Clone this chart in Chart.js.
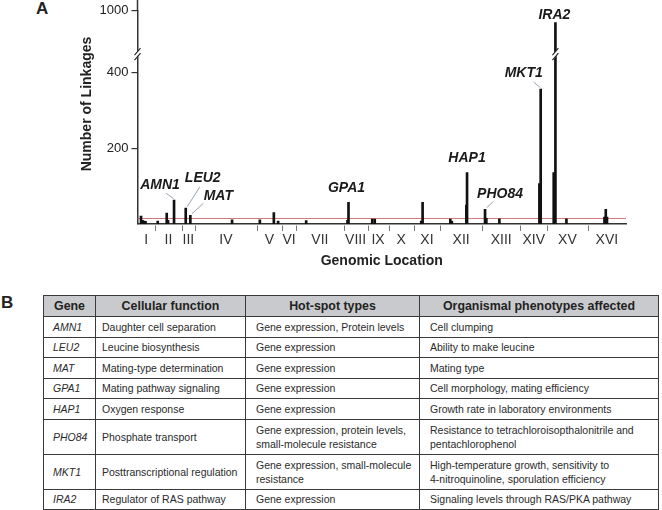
<!DOCTYPE html>
<html>
<head>
<meta charset="utf-8">
<script src="https://cdn.jsdelivr.net/npm/chart.js@4.4.1/dist/chart.umd.min.js"></script>
<style>
  body { margin: 0; width: 662px; height: 510px; overflow: hidden; background: #fff;
         font-family: "Liberation Sans", Arial, sans-serif; color: #222; }
  .panel { position: absolute; font-weight: bold; font-size: 17px; line-height: 17px; color: #222; }
  #lblA { left: 36px; top: 0px; }
  #lblB { left: 1px; top: 294px; }
  #chartBox { position: absolute; left: 0; top: 0; width: 662px; height: 272px; }
  #genes { position: absolute; left: 43px; top: 295px; width: 615px; border-collapse: collapse;
           table-layout: fixed; border: 1.5px solid #3a3a3a; }
  #genes th, #genes td { border: 1.5px solid #3a3a3a; vertical-align: middle; white-space: pre-line; }
  #genes th { background: #c9cacd; font-size: 12.4px; font-weight: bold; text-align: center;
              height: 20px; padding: 0; color: #222; }
  #genes td { font-size: 10.5px; line-height: 14px; color: #2a2a2a; text-align: left; height: 19.5px;
              padding: 0 3px 0 10px; }
  #genes td.gene { font-style: italic; padding-left: 9px; }
  #genes td.func { padding-left: 6px; }
  #genes tr.two td { height: 34px; }
</style>
</head>
<body>
<div id="lblA" class="panel">A</div>
<div id="chartBox"><canvas id="chart" width="662" height="272"></canvas></div>
<div id="lblB" class="panel">B</div>
<table id="genes">
  <colgroup><col style="width:52px"><col style="width:150px"><col style="width:174px"><col style="width:239px"></colgroup>
  <thead><tr><th>Gene</th><th>Cellular function</th><th>Hot-spot types</th><th>Organismal phenotypes affected</th></tr></thead>
  <tbody id="geneRows"></tbody>
</table>
<script>
// chromosome boundaries along the genome axis (kb)
const chromNames = ['I', 'II', 'III', 'IV', 'V', 'VI', 'VII', 'VIII', 'IX', 'X', 'XI', 'XII', 'XIII', 'XIV', 'XV', 'XVI'];
const chromEdges = [0, 433, 1093, 1422, 2949, 3567, 3921, 5091, 5685, 6204, 6823, 7482, 8514, 9461, 10122, 11127, 12071];

// linkage hot spots: position (kb) and number of linkages
const linkPos = [87, 124, 161, 198, 500, 722, 754, 903, 1192, 1306, 2337, 3023, 3369, 3475, 4168, 5189, 5214,
                 5800, 5862, 7012, 7045, 7730, 7767, 8126, 8143, 8588, 8620, 8942, 9931, 9963, 10285, 10327,
                 10599, 11539, 11571, 11601];
const linkCount = [21, 10, 8, 7, 8, 29, 10, 63, 42, 23, 11, 11, 30, 8, 9, 10, 57,
                   13, 13, 8, 57, 13, 8, 50, 136, 39, 15, 14, 107, 357, 136, 885,
                   14, 18, 39, 18];

const yTickValues = [200, 400, 1000];
const threshold = 15;
const breakLow = 400;      // axis is broken above this value
const breakMark = 580;     // where the // marks sit

// table panel
const geneNames = ['AMN1', 'LEU2', 'MAT', 'GPA1', 'HAP1', 'PHO84', 'MKT1', 'IRA2'];
const geneBar = [7, 8, 9, 16, 24, 25, 29, 31]; // which hot spot each gene labels
const geneFunction = ['Daughter cell separation', 'Leucine biosynthesis', 'Mating-type determination',
  'Mating pathway signaling', 'Oxygen response', 'Phosphate transport', 'Posttranscriptional regulation',
  'Regulator of RAS pathway'];
const geneHotspot = ['Gene expression, Protein levels', 'Gene expression', 'Gene expression', 'Gene expression',
  'Gene expression', 'Gene expression, protein levels,\nsmall-molecule resistance',
  'Gene expression, small-molecule\nresistance', 'Gene expression'];
const genePhenotype = ['Cell clumping', 'Ability to make leucine', 'Mating type', 'Cell morphology, mating efficiency',
  'Growth rate in laboratory environments', 'Resistance to tetrachloroisopthalonitrile and\npentachlorophenol',
  'High-temperature growth, sensitivity to\n4-nitroquinoline, sporulation efficiency',
  'Signaling levels through RAS/PKA pathway'];

// label placement (px offsets from the bar top): text centre, leader start
const labelLayout = [
  { dx: -14, dy: -15, lead: [-8, -7] },
  { dx: 17, dy: -30, lead: [14, -21] },
  { dx: 28, dy: -19, lead: [13, -12] },
  { dx: -2, dy: -14 },
  { dx: 0, dy: -14 },
  { dx: 15, dy: -15, lead: [8.5, -8] },
  { dx: -17, dy: -15.5, lead: [-7, -7] },
  { dx: -1, dy: -8 }
];

// fill the table
const tbody = document.getElementById('geneRows');
geneNames.forEach(function (g, i) {
  const tr = document.createElement('tr');
  if (geneHotspot[i].indexOf('\n') >= 0 || genePhenotype[i].indexOf('\n') >= 0) tr.className = 'two';
  [[g, 'gene'], [geneFunction[i], 'func'], [geneHotspot[i], ''], [genePhenotype[i], '']].forEach(function (c) {
    const td = document.createElement('td');
    td.textContent = c[0];
    if (c[1]) td.className = c[1];
    tr.appendChild(td);
  });
  tbody.appendChild(tr);
});

// broken axis: values above 400 are squeezed
const upperFactor = 164 / 600;
function toAxis(v) {
  return v <= breakLow ? v : breakLow + (v - breakLow) * upperFactor;
}

const FONT = '"Liberation Sans", Arial, sans-serif';
Chart.defaults.font.family = FONT;

function drawBreak(ctx, x, y) {
  ctx.save();
  ctx.fillStyle = '#fff';
  ctx.beginPath();
  ctx.moveTo(x - 4, y + 1.5); ctx.lineTo(x + 4, y - 7.5);
  ctx.lineTo(x + 4, y - 1.5); ctx.lineTo(x - 4, y + 7.5);
  ctx.closePath(); ctx.fill();
  ctx.strokeStyle = '#222';
  ctx.lineWidth = 1.1;
  ctx.beginPath();
  ctx.moveTo(x - 3, y + 1); ctx.lineTo(x + 3, y - 6);
  ctx.moveTo(x - 3, y + 6); ctx.lineTo(x + 3, y - 1);
  ctx.stroke();
  ctx.restore();
}

const decorPlugin = {
  id: 'decor',
  beforeDatasetsDraw(chart) {
    const { ctx, chartArea, scales } = chart;
    const y = Math.round(scales.y.getPixelForValue(threshold)) + 0.5;
    ctx.save();
    ctx.strokeStyle = 'rgba(205, 85, 95, 0.8)';
    ctx.lineWidth = 1;
    ctx.beginPath();
    ctx.moveTo(chartArea.left, y);
    ctx.lineTo(chartArea.right, y);
    ctx.stroke();
    ctx.restore();
  },
  afterDraw(chart) {
    const { ctx, chartArea, scales } = chart;
    const xs = scales.x, ys = scales.y;
    ctx.save();

    // y axis runs on above the top tick
    ctx.strokeStyle = '#333';
    ctx.lineWidth = 1.5;
    ctx.beginPath();
    ctx.moveTo(chartArea.left, 0);
    ctx.lineTo(chartArea.left, chartArea.top);
    ctx.stroke();

    // chromosome boundaries and names
    ctx.strokeStyle = '#777';
    ctx.lineWidth = 1;
    ctx.beginPath();
    for (let i = 1; i < chromEdges.length - 1; i++) {
      const x = Math.round(xs.getPixelForValue(chromEdges[i])) + 0.5;
      ctx.moveTo(x, chartArea.bottom + 1.5);
      ctx.lineTo(x, chartArea.bottom + 7);
    }
    ctx.stroke();
    ctx.fillStyle = '#333';
    ctx.font = '14px ' + FONT;
    ctx.textAlign = 'center';
    ctx.textBaseline = 'middle';
    chromNames.forEach(function (n, i) {
      const x = (xs.getPixelForValue(chromEdges[i]) + xs.getPixelForValue(chromEdges[i + 1])) / 2;
      ctx.fillText(n, x, chartArea.bottom + 16.5);
    });

    // y title
    ctx.save();
    ctx.translate(87, 104);
    ctx.rotate(-Math.PI / 2);
    ctx.font = 'bold 14px ' + FONT;
    ctx.fillStyle = '#222';
    ctx.fillText('Number of Linkages', 0, 0);
    ctx.restore();

    // axis breaks
    const by = ys.getPixelForValue(toAxis(breakMark));
    drawBreak(ctx, chartArea.left, by);
    const big = geneBar[geneNames.indexOf('IRA2')];
    drawBreak(ctx, xs.getPixelForValue(linkPos[big]), by);

    // gene labels
    ctx.font = 'italic bold 14px ' + FONT;
    ctx.fillStyle = '#1a1a1a';
    geneNames.forEach(function (g, i) {
      const b = geneBar[i];
      const bx = xs.getPixelForValue(linkPos[b]);
      const bt = ys.getPixelForValue(toAxis(linkCount[b]));
      const L = labelLayout[i];
      ctx.fillText(g, bx + L.dx, bt + L.dy);
      if (L.lead) {
        ctx.strokeStyle = '#8a96a8';
        ctx.lineWidth = 0.9;
        ctx.beginPath();
        ctx.moveTo(bx + L.lead[0], bt + L.lead[1]);
        ctx.lineTo(bx + (L.lead[0] > 0 ? 1.5 : -0.5), bt - 1.5);
        ctx.stroke();
      }
    });
    ctx.restore();
  }
};

const ctx = document.getElementById('chart').getContext('2d');
const chart = new Chart(ctx, {
  type: 'bar',
  data: {
    datasets: [{
      data: linkPos.map(function (p, i) { return { x: p, y: toAxis(linkCount[i]) }; }),
      backgroundColor: '#111',
      borderWidth: 0,
      barThickness: 2,
      grouped: false
    }]
  },
  options: {
    responsive: false,
    animation: false,
    layout: { padding: { left: 0, right: 36, top: 0, bottom: 0 } },
    plugins: { legend: { display: false }, tooltip: { enabled: false } },
    scales: {
      x: {
        type: 'linear',
        offset: false,
        min: chromEdges[0],
        max: chromEdges[chromEdges.length - 1],
        grid: { display: false },
        ticks: { display: false },
        border: { display: true, color: '#333', width: 1.5 },
        title: { display: true, text: 'Genomic Location', color: '#222',
                 font: { size: 14, weight: 'bold' }, padding: { top: 0, bottom: 2.6 } },
        afterFit: function (s) { s.height = 48; }
      },
      y: {
        min: 0,
        max: toAxis(1000),
        grid: { drawOnChartArea: false, tickLength: 6, color: '#333', lineWidth: 1.2 },
        border: { display: true, color: '#333', width: 1.5 },
        ticks: {
          color: '#222', font: { size: 13 }, padding: 3,
          callback: function (val) {
            const i = yTickValues.findIndex(function (v) { return Math.abs(toAxis(v) - val) < 0.01; });
            return i >= 0 ? String(yTickValues[i]) : '';
          }
        },
        afterBuildTicks: function (s) { s.ticks = yTickValues.map(function (v) { return { value: toAxis(v) }; }); },
        afterFit: function (s) { s.width = 137.5; }
      }
    }
  },
  plugins: [decorPlugin]
});
</script>
</body>
</html>
